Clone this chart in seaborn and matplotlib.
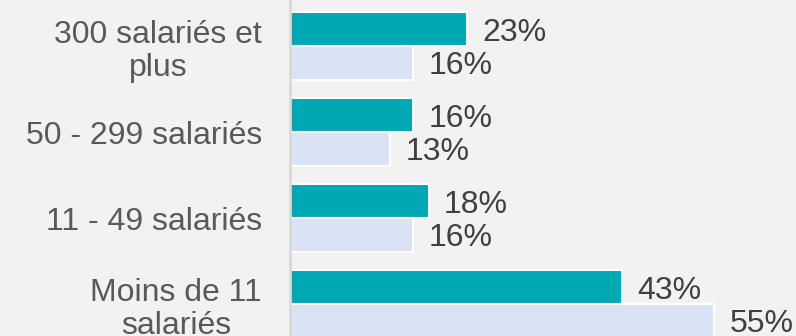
import matplotlib
matplotlib.use("Agg")
import matplotlib.pyplot as plt
import seaborn as sns
import pandas as pd

categories = ["300 salariés et\nplus", "50 - 299 salariés", "11 - 49 salariés", "Moins de 11\nsalariés"]
series_names = ["A", "B"]
values_a = [23, 16, 18, 43]
values_b = [16, 13, 16, 55]

df = pd.DataFrame({
    "cat": categories * 2,
    "serie": [series_names[0]] * 4 + [series_names[1]] * 4,
    "val": values_a + values_b,
})

sns.set_theme(style="white")
plt.rcParams["font.family"] = ["Liberation Sans", "DejaVu Sans"]

bg = "#F2F2F2"
fig = plt.figure(figsize=(7.96, 3.36), dpi=100, facecolor=bg)
ax = fig.add_axes([290 / 796, 0, 1 - 290 / 796, 1])
ax.set_facecolor(bg)

sns.barplot(data=df, y="cat", x="val", hue="serie", order=categories,
            hue_order=series_names, palette=["#00A8B4", "#DAE3F3"],
            saturation=1, orient="h", width=0.78, edgecolor="white",
            linewidth=1.5, legend=False, ax=ax)

for cont in ax.containers:
    anns = ax.bar_label(cont, labels=[f"{int(v)}%" for v in cont.datavalues],
                        padding=11, fontsize=23, color="#404040")
    for a in anns:
        a.xyann = (11, -2.5)

ax.set_xlim(0, 65.6)
ax.set_ylim(3.372, -0.535)
ax.set_xlabel("")
ax.set_ylabel("")
ax.set_xticks([])
ax.tick_params(axis="y", length=0, pad=20, labelsize=23, labelcolor="#595959")
for lab in ax.get_yticklabels():
    lab.set_multialignment("center")
    lab.set_linespacing(1.15)
for s in ["top", "right", "bottom"]:
    ax.spines[s].set_visible(False)
ax.spines["left"].set_color("#D9D9D9")
ax.spines["left"].set_linewidth(2)

fig.savefig("out.png", dpi=100, facecolor=bg)
